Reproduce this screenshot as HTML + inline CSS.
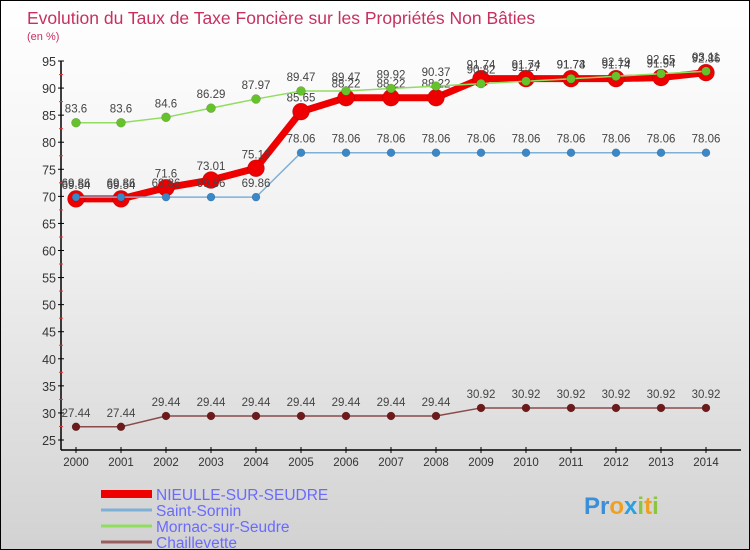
<!DOCTYPE html>
<html><head><meta charset="utf-8"><style>
body{margin:0}
#wrap{position:relative;width:748px;height:548px;border:1px solid #000;background:linear-gradient(#ffffff 0%,#f0f0f0 45%,#d2d2d2 100%);font-family:"Liberation Sans",sans-serif;overflow:hidden}
</style></head><body>
<div id="wrap">
<svg id="chart" width="748" height="548"></svg>
</div>
<script>
const years=[2000,2001,2002,2003,2004,2005,2006,2007,2008,2009,2010,2011,2012,2013,2014];
const nieulle=[69.54,69.54,71.6,73.01,75.19,85.65,88.22,88.22,88.22,91.74,91.74,91.74,91.74,91.94,92.86];
const sornin=[69.86,69.86,69.86,69.86,69.86,78.06,78.06,78.06,78.06,78.06,78.06,78.06,78.06,78.06,78.06];
const mornac=[83.6,83.6,84.6,86.29,87.97,89.47,89.47,89.92,90.37,90.82,91.27,91.73,92.19,92.65,93.11];
const chaill=[27.44,27.44,29.44,29.44,29.44,29.44,29.44,29.44,29.44,30.92,30.92,30.92,30.92,30.92,30.92];
const yTicks=[25,30,35,40,45,50,55,60,65,70,75,80,85,90,95];
const NS="http://www.w3.org/2000/svg";
const svg=document.getElementById('chart');
const X=i=>75+i*45;
const Y=v=>439-(v-25)*(379/70);
function el(t,a,p){const e=document.createElementNS(NS,t);for(const k in a)e.setAttribute(k,a[k]);(p||svg).appendChild(e);return e;}
function txt(x,y,s,a){const e=el('text',Object.assign({x:x,y:y},a));e.textContent=s;return e;}
const t1=txt(26,23,'Evolution du Taux de Taxe Foncière sur les Propriétés Non Bâties',{fill:'#c8305f','font-size':17.5});


const t2=txt(26,39,'(en %)',{fill:'#c8305f','font-size':11});


const ya=el('line',{x1:60,y1:Y(95),x2:60,y2:449,stroke:'#000','stroke-width':1.5});


const xa=el('line',{x1:60,y1:449,x2:740,y2:449,stroke:'#000','stroke-width':1.5});


yTicks.forEach(v=>{
 el('line',{x1:57,y1:Y(v),x2:63,y2:Y(v),stroke:'#000'});
 if(v<95) el('line',{x1:58,y1:Y(v+2.5),x2:62,y2:Y(v+2.5),stroke:'#e33'});
 const t=txt(55,Y(v)+5,String(v),{'text-anchor':'end','font-size':12.5,fill:'#333'});
 
 
});
years.forEach((y,i)=>{
 el('line',{x1:X(i),y1:446,x2:X(i),y2:452,stroke:'#000'});
 const t=txt(X(i),465,String(y),{'text-anchor':'middle','font-size':11.5,fill:'#333'});
 
 
});
function series(data,color,w,r,dot,name){
 const g=el('g',{});
 
 
 el('polyline',{points:data.map((v,i)=>X(i)+','+Y(v)).join(' '),fill:'none',stroke:color,'stroke-width':w,'stroke-linejoin':'round'},g);
 data.forEach((v,i)=>{
  const c=el('circle',{cx:X(i),cy:Y(v),r:r,fill:dot,stroke:'rgba(0,0,0,0.25)','stroke-width':0.5},g);
  
  
  const t=txt(X(i),Y(v)-10,String(v),{'text-anchor':'middle','font-size':11.5,fill:'#444'},g);
  
  
 });
}
series(nieulle,'#ee0000',7,8.5,'#ee0000','series-nieulle');
series(sornin,'#7fb0d8',1.5,4,'#3a88c8','series-saint-sornin');
series(mornac,'#90dd60',1.5,4.5,'#66c22a','series-mornac');
series(chaill,'#8a4a4a',1.5,4,'#6e1a1a','series-chaillevette');
const leg=[['NIEULLE-SUR-SEUDRE','#ee0000',8],['Saint-Sornin','#7fb0d8',3],['Mornac-sur-Seudre','#90dd60',3],['Chaillevette','#9a6060',3]];
leg.forEach((l,i)=>{
 const y=493+i*16;
 const g=el('g',{});
 
 
 el('line',{x1:100,y1:y,x2:151,y2:y,stroke:l[1],'stroke-width':l[2]},g);
 txt(155,y+6,l[0],{'font-size':15.5,fill:'#6a6aff'},g);
});
const lg=el('g',{});


const lt=txt(583,513,'',{'font-size':24,'font-weight':'bold'},lg);
[['P','#3a8fd8'],['r','#3a8fd8'],['o','#f0a020'],['x','#2aa0e0'],['i','#8cc63f'],['t','#f0a020'],['i','#8cc63f']].forEach(p=>{const s=document.createElementNS(NS,'tspan');s.setAttribute('fill',p[1]);s.textContent=p[0];lt.appendChild(s);});
</script>
</body></html>
